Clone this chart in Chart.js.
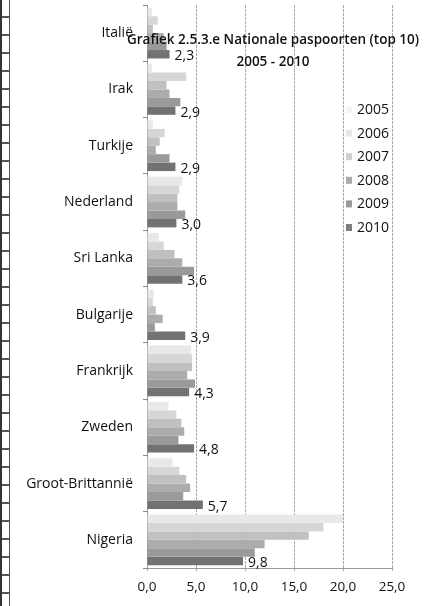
<!DOCTYPE html>
<html>
<head>
<meta charset="utf-8">
<script src="https://cdn.jsdelivr.net/npm/chart.js@4.4.1/dist/chart.umd.min.js"></script>
<style>
  html, body { margin: 0; padding: 0; background: #fff; }
  #wrap { position: relative; width: 425px; height: 606px; }
  .strip {
    position: absolute; left: 0; top: 0; width: 7px; height: 606px;
    border-left: 2px solid #333; border-right: 1px solid #555;
    background: repeating-linear-gradient(#fff 0 16px, #555 16px 18px);
  }
</style>
</head>
<body>
<div id="wrap">
  <div class="strip"></div>
  <canvas id="chart" width="425" height="606"></canvas>
</div>
<script>
const countries = ['Italië', 'Irak', 'Turkije', 'Nederland', 'Sri Lanka', 'Bulgarije', 'Frankrijk', 'Zweden', 'Groot-Brittannië', 'Nigeria'];
const years = ['2005', '2006', '2007', '2008', '2009', '2010'];

// values per year, same order as countries
const v2005 = [0.5, 0.5, 0.6, 3.6, 1.2, 0.7, 4.5, 2.2, 2.6, 20.0];
const v2006 = [1.1, 4.0, 1.8, 3.3, 1.7, 0.6, 4.6, 3.0, 3.3, 18.0];
const v2007 = [0.6, 2.0, 1.3, 3.1, 2.8, 0.9, 4.6, 3.5, 4.0, 16.5];
const v2008 = [1.7, 2.3, 0.9, 3.1, 3.6, 1.6, 4.1, 3.8, 4.4, 12.0];
const v2009 = [2.0, 3.4, 2.3, 3.9, 4.8, 0.8, 4.9, 3.2, 3.7, 11.0];
const v2010 = [2.3, 2.9, 2.9, 3.0, 3.6, 3.9, 4.3, 4.8, 5.7, 9.8];

const xTicks = [0, 5, 10, 15, 20, 25];
const titleLines = ['Grafiek 2.5.3.e Nationale paspoorten (top 10)', '2005 - 2010'];

const seriesValues = [v2005, v2006, v2007, v2008, v2009, v2010];
const greys = ['#e8e8e8', '#d6d6d6', '#c0c0c0', '#acacac', '#9a9a9a', '#727272'];
const legendSwatch = ['#f4f4f4', '#e6e6e6', '#d0d0d0', '#aaaaaa', '#9a9a9a', '#808080'];

const fmt = v => v.toFixed(1).replace('.', ',');
const FONT = '"Open Sans", sans-serif';

// title, legend and value labels drawn on top of the plot (as in the scan)
const overlay = {
  id: 'overlay',
  afterDatasetsDraw(chart) {
    const c = chart.ctx;
    c.save();
    c.fillStyle = '#111';
    c.font = '14px ' + FONT;
    c.textAlign = 'left';
    c.textBaseline = 'middle';
    const meta = chart.getDatasetMeta(5);
    meta.data.forEach((bar, i) => {
      c.fillText(fmt(v2010[i]), bar.x + 5, bar.y + 2);
    });

    c.textAlign = 'center';
    c.font = '600 13.5px ' + FONT;
    c.fillText(titleLines[0], 273, 40);
    c.fillText(titleLines[1], 273, 62);

    c.textAlign = 'left';
    c.font = '14px ' + FONT;
    years.forEach((y, i) => {
      const yy = 110 + i * 23.6;
      c.fillStyle = legendSwatch[i];
      c.fillRect(346, yy - 4, 6, 7);
      c.fillStyle = '#111';
      c.fillText(y, 357, yy);
    });
    c.restore();
  }
};

new Chart(document.getElementById('chart').getContext('2d'), {
  type: 'bar',
  data: {
    labels: countries,
    datasets: years.map((y, i) => ({
      label: y,
      data: seriesValues[i],
      backgroundColor: greys[i],
      borderWidth: 0,
      categoryPercentage: 0.9,
      barPercentage: 1.0
    }))
  },
  options: {
    indexAxis: 'y',
    responsive: false,
    animation: false,
    layout: { padding: { top: 5, right: 33, bottom: 0, left: 0 } },
    plugins: {
      legend: { display: false },
      title: { display: false },
      tooltip: { enabled: false }
    },
    scales: {
      x: {
        min: 0,
        max: 25,
        afterBuildTicks: axis => { axis.ticks = xTicks.map(v => ({ value: v })); },
        afterFit: s => { s.height = 38; },
        ticks: {
          callback: v => fmt(v),
          color: '#111',
          font: { family: FONT, size: 13.5 },
          padding: 8,
          maxRotation: 0
        },
        grid: { color: '#a8a8a8', lineWidth: 1, tickLength: 3 },
        border: { color: '#999', dash: [3, 1] }
      },
      y: {
        afterFit: s => { s.width = 147; s.paddingTop = 0; s.paddingBottom = 0; },
        ticks: {
          color: '#111',
          font: { family: FONT, size: 14 },
          padding: 10
        },
        grid: { drawOnChartArea: false, color: '#888', tickLength: 4 },
        border: { color: '#999' }
      }
    }
  },
  plugins: [overlay]
});
</script>
</body>
</html>
